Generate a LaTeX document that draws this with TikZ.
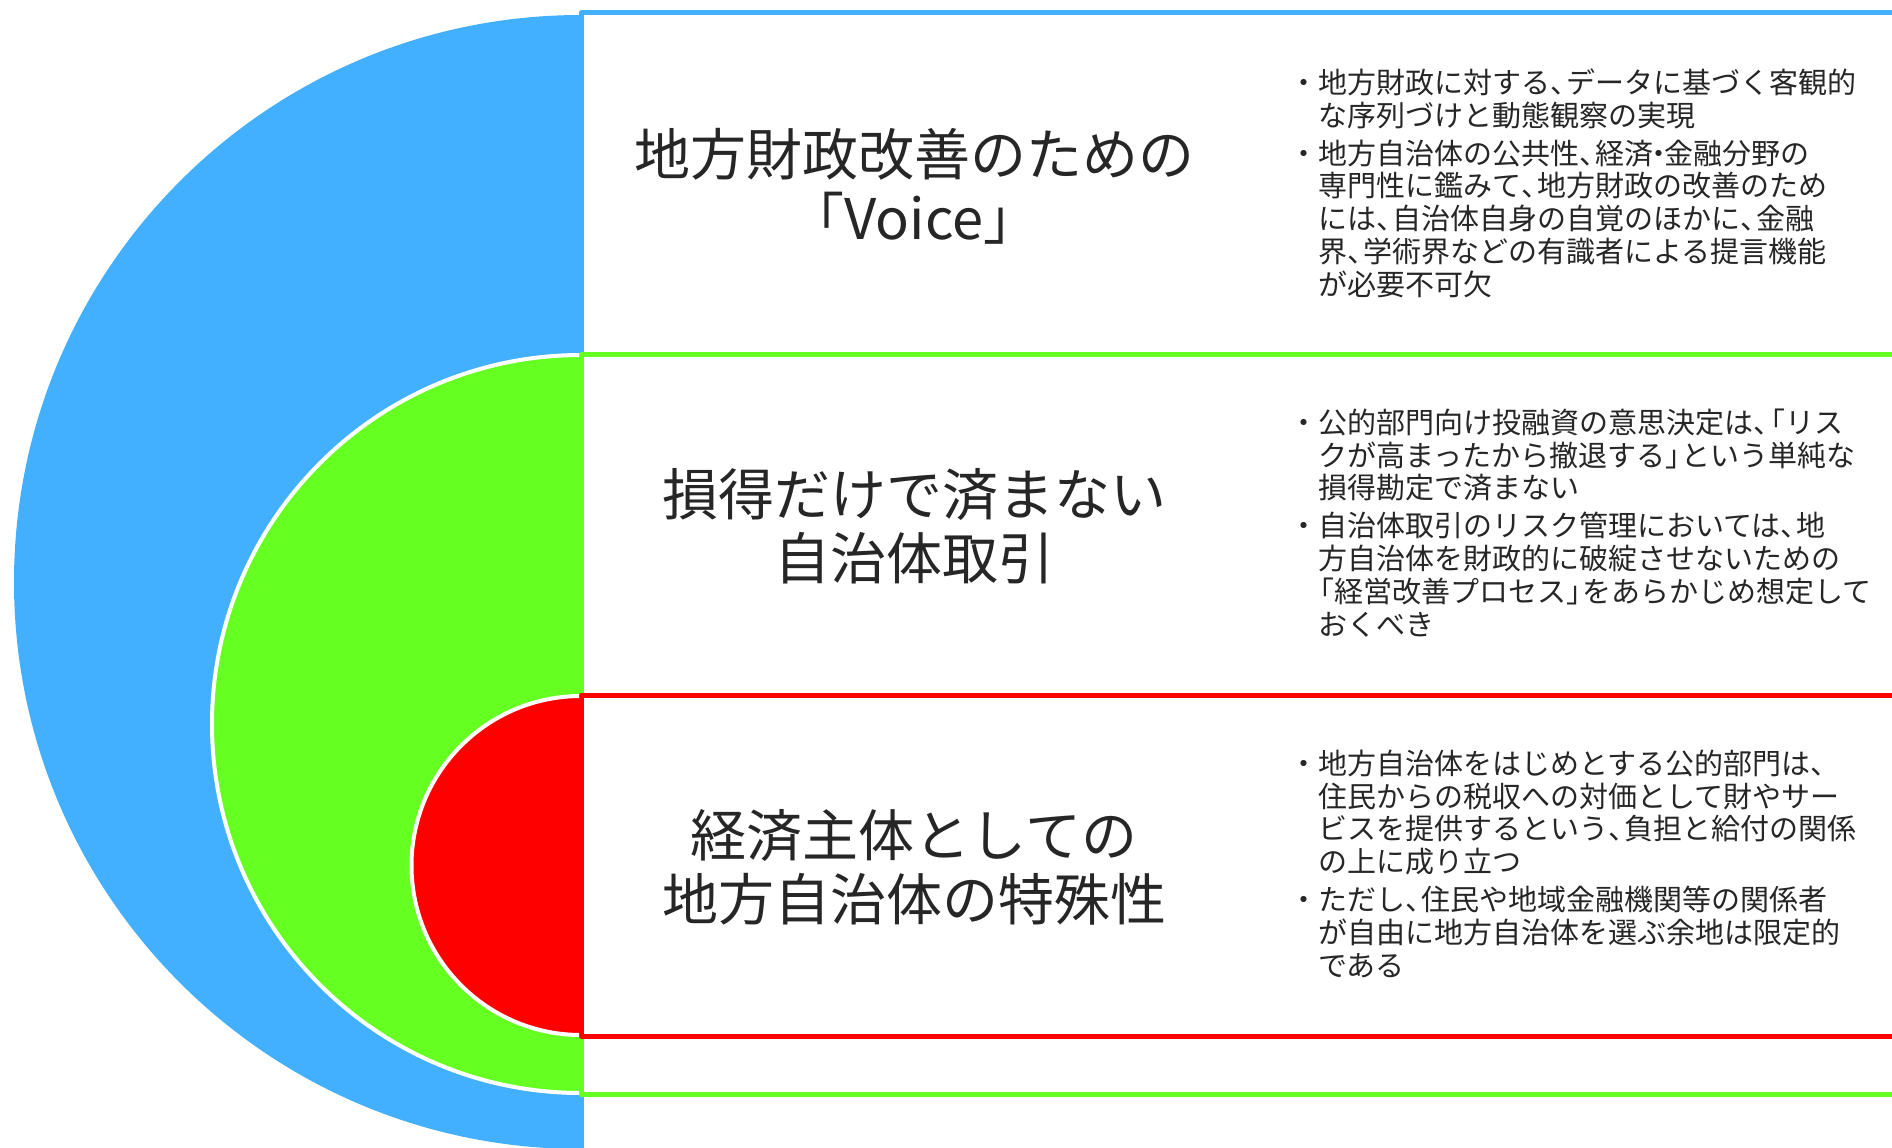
\documentclass[tikz,border=0pt]{standalone}
\usepackage{fontspec}
\setmainfont{Noto Sans CJK JP}
\definecolor{cblue}{HTML}{42AFFF}
\definecolor{cgreen}{HTML}{66FF22}
\definecolor{cred}{HTML}{FF0000}
\definecolor{ctext}{HTML}{262626}
\newcommand\bul{\llap{・}}
\newcommand\tou{\makebox[0.55em][l]{、}}
\newcommand\kko{\makebox[0.55em][r]{「}}
\newcommand\kkc{\makebox[0.55em][l]{」}}
\newcommand\nak{\makebox[0.4em][c]{・}}
\begin{document}
\begin{tikzpicture}[x=1pt,y=-1pt,
  panel/.style={fill=white, line width=5pt, line join=round},
  halfring/.style={draw=white, line width=4pt},
  title/.style={align=center, text=ctext, font=\fontsize{56}{64}\selectfont, inner sep=0pt},
  body/.style={align=left, text=ctext, font=\fontsize{29}{32.7}\selectfont, inner sep=0pt, anchor=base west}]
\useasboundingbox (0,0) rectangle (1892,1148);
\clip (0,0) rectangle (1892,1148);
% blue layer
\path[panel, draw=cblue] (581,13) rectangle (1930,1200);
\begin{scope}
  \clip (0,0) rectangle (579,1148);
  \fill[cblue] (581,582) circle[radius=567];
\end{scope}
% green layer
\path[panel, draw=cgreen] (581,354.5) rectangle (1930,1094);
\begin{scope}
  \clip (0,0) rectangle (579,1148);
  \filldraw[fill=cgreen, halfring] (581,724) circle[radius=369];
\end{scope}
% red layer
\path[panel, draw=cred] (581,695.5) rectangle (1930,1036);
\begin{scope}
  \clip (0,0) rectangle (579,1148);
  \filldraw[fill=cred, halfring] (581,865.5) circle[radius=169.5];
\end{scope}
% titles
\node[title] (t1) at (914,186) {地方財政改善のための\\「Voice」};
\node[title] (t2) at (914,526) {損得だけで済まない\\自治体取引};
\node[title] (t3) at (914,867) {経済主体としての\\地方自治体の特殊性};
% bodies (anchored at the baseline of the last line)
\node[body] (b1) at (1318,295) {\bul 地方財政に対する\tou データに基づく客観的\\
な序列づけと動態観察の実現\\[5.5pt]
\bul 地方自治体の公共性\tou 経済\nak 金融分野の\\
専門性に鑑みて\tou 地方財政の改善のため\\
には\tou 自治体自身の自覚のほかに\tou 金融\\
界\tou 学術界などの有識者による提言機能\\
が必要不可欠};
\node[body] (b2) at (1318,635) {\bul 公的部門向け投融資の意思決定は\tou\kko リス\\
クが高まったから撤退する\kkc という単純な\\
損得勘定で済まない\\[5.5pt]
\bul 自治体取引のリスク管理においては\tou 地\\
方自治体を財政的に破綻させないための\\
\kko 経営改善プロセス\kkc をあらかじめ想定して\\
おくべき};
\node[body] (b3) at (1318,976) {\bul 地方自治体をはじめとする公的部門は\tou\\
住民からの税収への対価として財やサー\\
ビスを提供するという\tou 負担と給付の関係\\
の上に成り立つ\\[5.5pt]
\bul ただし\tou 住民や地域金融機関等の関係者\\
が自由に地方自治体を選ぶ余地は限定的\\
である};
\end{tikzpicture}
\end{document}
